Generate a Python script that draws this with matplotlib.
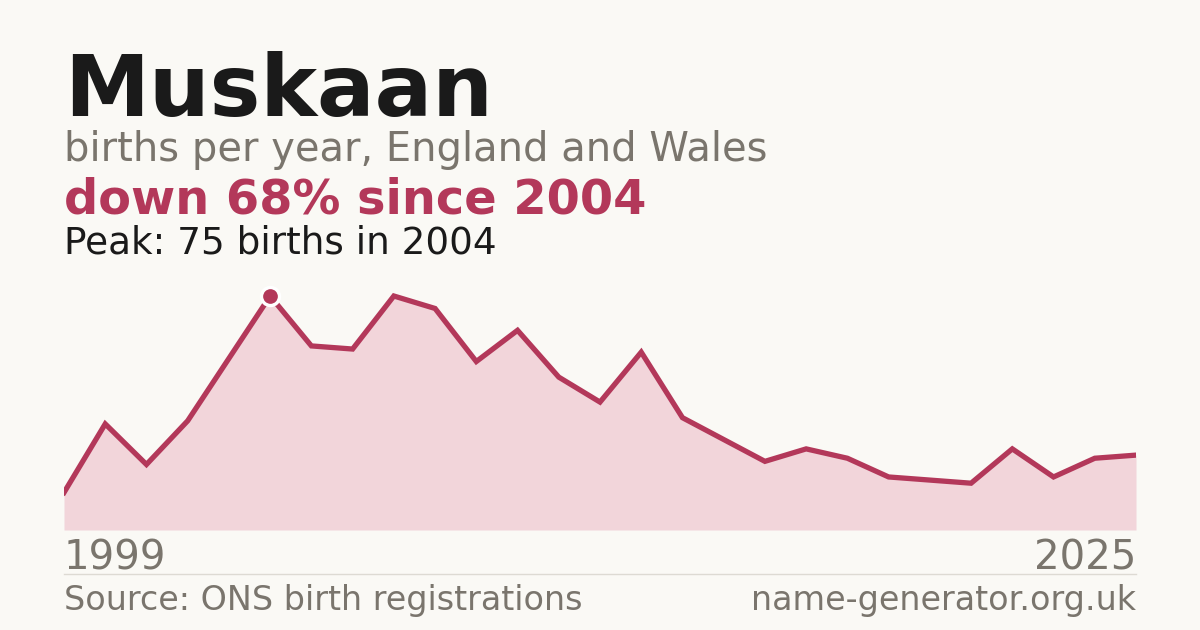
import numpy as np
import matplotlib
matplotlib.use('Agg')
import matplotlib.pyplot as plt

# births per year
years = np.arange(1999, 2026)
births = [12, 34, 21, 35, 55, 75, 59, 58, 75, 71, 54, 64, 49, 41, 57,
          36, 29, 22, 26, 23, 17, 16, 15, 26, 17, 23, 24]
peak_year = 2004
peak_val = 75

bg = '#faf9f5'
red = '#b3385a'
grey = '#7a756d'

W, H = 1200, 630
fig = plt.figure(figsize=(12, 6.3), dpi=100, facecolor=bg)

# plot area in pixel terms
left, right, bottom, top = 64, 1136, 530, 280
ax = fig.add_axes([left / W, 1 - bottom / H, (right - left) / W, (bottom - top) / H])
ax.set_facecolor(bg)
ax.fill_between(years, births, 0, color='#f2d5da', lw=0)
ax.plot(years, births, color=red, lw=3.8, solid_joinstyle='miter')
ax.plot([peak_year], [peak_val], 'o', ms=13, color=red, mec='white', mew=2.4, zorder=5)
ax.set_xlim(years[0], years[-1])
ax.set_ylim(0, peak_val * 250 / 234)
ax.axis('off')

def txt(x, y, s, **kw):
    fig.text(x / W, 1 - y / H, s, va='baseline', **kw)

txt(64, 116, 'Muskaan', fontsize=61.5, fontweight='bold', color='#1a1a1a')
txt(64, 161, 'births per year, England and Wales', fontsize=28.8, color=grey)
txt(64, 214, 'down 68% since 2004', fontsize=34.5, fontweight='bold', color=red)
txt(64, 254, 'Peak: 75 births in 2004', fontsize=26.9, color='#1a1a1a')
txt(64, 570, str(years[0]), fontsize=29, color=grey)
txt(1136, 570, str(years[-1]), fontsize=29, color=grey, ha='right')
txt(64, 610, 'Source: ONS birth registrations', fontsize=24, color=grey)
txt(1136, 610, 'name-generator.org.uk', fontsize=24, color=grey, ha='right')

fig.add_artist(plt.Line2D([left / W, right / W], [1 - 574 / H, 1 - 574 / H],
                          color='#dddad3', lw=1))

fig.savefig('out.png', dpi=100, facecolor=bg)
